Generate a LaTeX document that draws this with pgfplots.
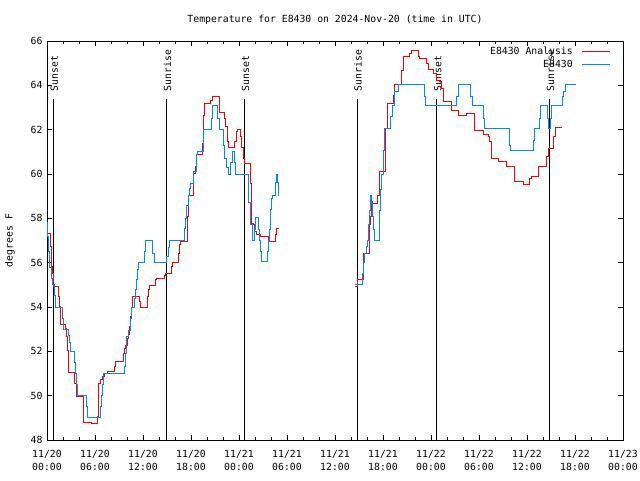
\documentclass[border=0pt]{standalone}
\usepackage{pgfplots}
\pgfplotsset{compat=1.18}
\usepackage{fontspec}
\setmainfont{DejaVu Sans Mono}
\definecolor{gpred}{RGB}{255,0,0}
\definecolor{gpblue}{RGB}{0,136,255}
\newcommand{\gpfont}{\fontsize{9.8}{13}\selectfont}
\newcommand{\legline}[1]{%
  \pgfpathmoveto{\pgfpoint{0pt}{0pt}}\pgfpathlineto{\pgfpoint{8pt}{0pt}}\pgfusepath{}%
  \pgfsetlinewidth{1.1pt}\pgfsetstrokecolor{#1}%
  \pgfpathmoveto{\pgfpoint{8pt}{0pt}}\pgfpathlineto{\pgfpoint{36pt}{0pt}}\pgfusepath{stroke}}
\begin{document}
\begin{tikzpicture}
\path[use as bounding box] (-47pt,-40pt) rectangle (593pt,440pt);
\begin{axis}[
  at={(0pt,0pt)}, anchor=south west,
  scale only axis, width=576pt, height=399pt,
  xmin=0, xmax=72, ymin=48, ymax=66,
  font=\gpfont,
  /pgf/number format/assume math mode=true,
  axis line style={black, line width=0.8pt},
  tick style={black, line width=0.8pt},
  tick align=inside,
  major tick length=5pt, minor tick length=3pt,
  xtick={0,6,...,72},
  minor x tick num=2,
  xticklabels={{11/20\\00:00},{11/20\\06:00},{11/20\\12:00},{11/20\\18:00},{11/21\\00:00},{11/21\\06:00},{11/21\\12:00},{11/21\\18:00},{11/22\\00:00},{11/22\\06:00},{11/22\\12:00},{11/22\\18:00},{11/23\\00:00}},
  xticklabel style={align=center, font=\gpfont, yshift=-7pt},
  ytick={48,50,...,66},
  yticklabel style={font=\gpfont, xshift=-1pt},
  title={Temperature for E8430 on 2024-Nov-20 (time in UTC)},
  title style={yshift=7pt, font=\gpfont},
  ylabel={degrees F},
  ylabel style={at={(axis description cs:0,0.5)}, anchor=center, yshift=37pt, font=\gpfont},
  legend style={at={(axis description cs:1,1)}, anchor=north east, xshift=-12pt, yshift=-4pt,
    draw=none, fill=none, font=\gpfont, inner sep=0pt, row sep=1.5pt,
    nodes={inner sep=1.5pt}},
  legend cell align=right,
  legend plot pos=right,
]
% sunrise / sunset markers
\addplot[black, line width=0.8pt, forget plot] coordinates {(0.77,48) (0.77,63.4)};
\addplot[black, line width=0.8pt, forget plot] coordinates {(14.92,48) (14.92,63.4)};
\addplot[black, line width=0.8pt, forget plot] coordinates {(24.69,48) (24.69,63.4)};
\addplot[black, line width=0.8pt, forget plot] coordinates {(38.75,48) (38.75,63.4)};
\addplot[black, line width=0.8pt, forget plot] coordinates {(48.71,48) (48.71,63.4)};
\addplot[black, line width=0.8pt, forget plot] coordinates {(62.79,48) (62.79,63.4)};
\node[rotate=90, anchor=west, inner sep=0pt, font=\gpfont] at (axis cs:0.9,63.72) {Sunset};
\node[rotate=90, anchor=west, inner sep=0pt, font=\gpfont] at (axis cs:15.05,63.72) {Sunrise};
\node[rotate=90, anchor=west, inner sep=0pt, font=\gpfont] at (axis cs:24.82,63.72) {Sunset};
\node[rotate=90, anchor=west, inner sep=0pt, font=\gpfont] at (axis cs:38.88,63.72) {Sunrise};
\node[rotate=90, anchor=west, inner sep=0pt, font=\gpfont] at (axis cs:48.84,63.72) {Sunset};
\node[rotate=90, anchor=west, inner sep=0pt, font=\gpfont] at (axis cs:62.92,63.72) {Sunrise};

\addplot[const plot, color=gpred, line width=1pt,
  legend image code/.code={\legline{gpred}}] table {
x y
0 57.32
0.46 56.72
0.54 55.82
0.67 55.52
0.79 54.99
0.875 54.92
1.5 54.47
1.625 54.01
1.71 53.19
2.375 53.04
2.46 52.66
2.54 52.06
2.67 51.04
3.5 50.56
3.67 49.98
4.54 49.73
4.625 48.8
5.54 48.75
6.29 49.05
6.42 49.95
6.5 50.56
6.71 50.71
6.92 50.86
7.25 51.01
7.54 51.08
8.46 51.31
8.58 51.53
9.54 51.91
9.67 52.13
9.83 52.28
10.04 52.59
10.25 52.74
10.375 53.11
10.5 53.56
10.58 53.98
10.67 54.49
11.625 54.24
11.71 53.98
12.54 54.46
12.67 54.8
12.875 54.99
13.58 55.25
13.71 55.29
14.75 55.44
14.875 55.52
15.58 55.82
15.71 56.0
16.42 56.42
16.625 56.8
16.75 56.95
17.54 58.07
17.71 59.05
18.375 60.03
18.58 60.33
18.71 60.86
19.5 61.38
19.625 62.66
19.75 63.19
20.5 63.32
20.71 63.49
21.625 62.76
22.25 62.51
22.375 62.13
22.58 61.46
22.67 61.2
23.5 61.46
23.71 61.9
23.83 62.01
24.17 61.68
24.33 61.2
24.54 60.7
24.67 60.48
25.46 59.58
25.58 57.77
25.79 57.7
26.0 57.4
26.21 57.29
26.71 57.17
27.67 56.95
28.58 57.29
28.71 57.55
28.96 57.55
};
\addlegendentry{E8430 Analysis}

\addplot[const plot, color=gpblue, line width=1pt,
  legend image code/.code={\legline{gpblue}}] table {
x y
0 57.8
0.1 57.2
0.2 56.5
0.35 55.8
0.55 55.3
0.7 55.0
1.0 54.5
1.125 54.0
1.92 53.5
2.05 53.0
2.67 52.7
2.8 52.4
2.96 52.0
3.42 51.5
3.58 51.0
3.75 50.5
3.83 50.0
4.96 49.5
5.1 49.0
6.67 49.5
6.83 50.0
6.96 50.5
7.04 51.0
9.75 51.3
9.875 51.9
9.96 52.66
10.17 52.96
10.46 53.5
10.58 54.0
10.92 54.4
11.08 54.77
11.21 55.22
11.33 55.67
11.42 56.0
12.25 56.5
12.375 57.0
13.2 56.42
13.42 56.0
14.96 56.27
15.17 56.7
15.29 57.0
17.25 57.55
17.375 58.0
17.46 58.6
17.67 59.05
17.875 59.35
18.0 59.58
18.375 60.1
18.71 60.86
18.79 61.0
19.54 61.5
19.625 62.0
20.58 62.5
20.71 63.07
21.33 62.5
21.54 62.0
22.04 61.3
22.25 60.7
22.46 60.3
22.67 60.0
23.0 60.5
23.17 61.0
23.5 60.5
23.625 60.0
25.25 58.7
25.4 57.7
25.71 57.02
26.0 57.5
26.125 58.03
26.5 57.5
26.625 57.02
26.75 56.5
26.875 56.04
27.58 56.5
27.67 57.02
27.8 57.5
27.96 58.4
28.1 58.9
28.21 59.05
28.58 59.6
28.67 60.0
28.83 59.6
28.92 59.05
29.0 59.05
};
\addlegendentry{E8430}

\addplot[const plot, color=gpred, line width=1pt, forget plot] table {
x y
38.5 54.92
38.79 55.22
39.54 56.42
40.29 56.87
40.375 57.7
40.46 58.07
40.58 58.75
40.75 58.68
41.29 59.05
41.54 60.1
42.33 62.06
42.54 63.19
43.375 63.56
43.5 64.04
44.33 64.69
44.54 65.29
45.375 65.44
45.58 65.59
46.42 65.29
46.54 65.22
47.46 64.99
47.67 64.72
48.29 64.54
48.71 64.24
49.125 64.16
49.33 63.86
49.54 63.26
50.58 62.88
51.42 62.66
52.46 62.73
53.5 61.98
54.54 61.76
55.17 61.68
55.375 61.46
55.58 60.7
56.42 60.55
57.46 60.36
58.5 59.65
59.54 59.53
60.375 59.8
60.58 59.88
61.42 60.33
62.46 60.78
62.67 61.16
63.375 61.68
63.625 62.1
64.33 62.1
};

\addplot[const plot, color=gpblue, line width=1pt, forget plot] table {
x y
38.5 55.0
39.42 55.5
39.54 56.0
39.75 56.42
39.9 56.72
40.04 57.02
40.2 57.7
40.375 58.37
40.46 59.02
40.625 58.68
40.71 58.07
40.875 57.5
41.0 57.02
41.54 57.5
41.625 58.37
41.71 59.28
41.83 60.0
42.04 61.08
42.17 62.06
42.9 62.6
43.2 63.07
43.5 63.7
43.9 64.04
47.25 63.5
47.375 63.07
51.21 63.5
51.42 64.04
53.0 63.5
53.17 63.07
54.54 62.5
54.67 62.06
57.79 61.3
57.96 61.04
60.79 61.5
60.92 62.06
61.54 62.5
61.71 63.07
62.54 62.5
62.67 62.06
63.0 62.5
63.125 63.07
64.46 63.5
64.625 63.71
64.875 64.04
66.08 64.04
};
\end{axis}
\end{tikzpicture}
\end{document}
